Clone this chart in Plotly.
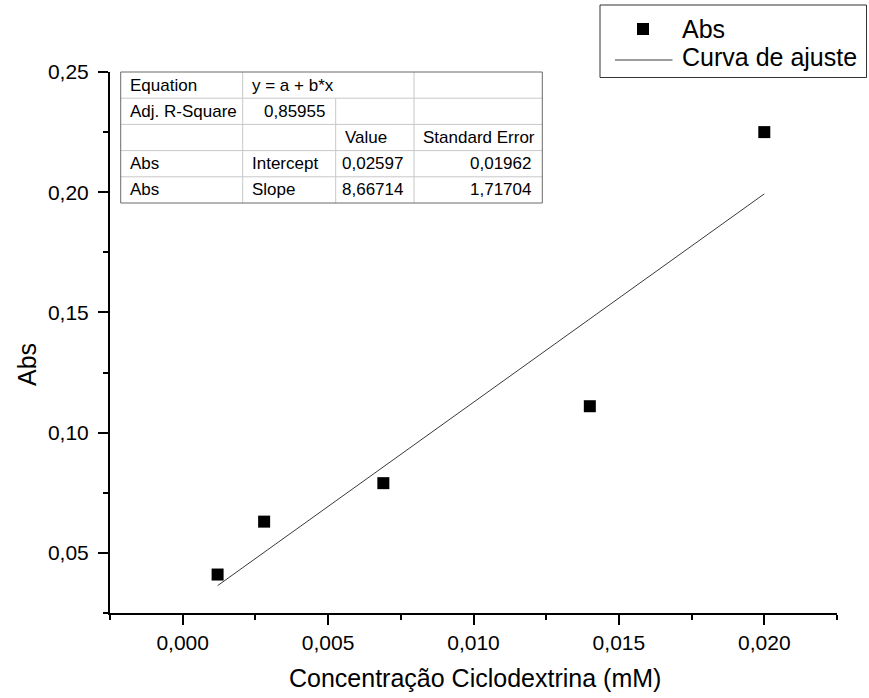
import plotly.graph_objects as go

# Measured absorbance vs. cyclodextrin concentration
conc_mM = [0.0012, 0.0028, 0.0069, 0.014, 0.020]
absorb = [0.041, 0.063, 0.079, 0.111, 0.225]

# Linear fit results (y = a + b*x)
fit_intercept = 0.02597
fit_slope = 8.66714
fit_x = [conc_mM[0], conc_mM[-1]]
fit_y = [fit_intercept + fit_slope * v for v in fit_x]

x_ticks = [0.000, 0.005, 0.010, 0.015, 0.020]
x_ticktext = ["0,000", "0,005", "0,010", "0,015", "0,020"]
y_ticks = [0.05, 0.10, 0.15, 0.20, 0.25]
y_ticktext = ["0,05", "0,10", "0,15", "0,20", "0,25"]

table_rows = [
    ["Equation", "y = a + b*x", "", ""],
    ["Adj. R-Square", "0,85955", "", ""],
    ["", "", "Value", "Standard Error"],
    ["Abs", "Intercept", "0,02597", "0,01962"],
    ["Abs", "Slope", "8,66714", "1,71704"],
]

W, H = 869, 698
L, R, T, B = 110, 32, 72, 85
PW, PH = W - L - R, H - T - B
FONT = "Liberation Sans, Arial, sans-serif"


def px(x):
    return (x - L) / PW


def py(y):
    return (H - B - y) / PH


fig = go.Figure()
fig.add_trace(go.Scatter(
    x=fit_x, y=fit_y, mode="lines",
    line=dict(color="#3a3a3a", width=1),
    name="Curva de ajuste", showlegend=False,
))
fig.add_trace(go.Scatter(
    x=conc_mM, y=absorb, mode="markers",
    marker=dict(symbol="square", size=12, color="black"),
    name="Abs", showlegend=False,
))

shapes = []
annotations = []

# Fit-parameter table
col_x = [120.7, 242.7, 335.7, 414.0, 542.3]
row_y = [72.0, 98.2, 124.4, 150.6, 176.8, 203.0]
grid = "#c8c8c8"
for i in range(1, 5):
    y0 = row_y[i]
    shapes.append(dict(type="line", xref="paper", yref="paper",
                       x0=px(col_x[0]), x1=px(col_x[-1]), y0=py(y0), y1=py(y0),
                       line=dict(color=grid, width=1)))
for j in range(1, 4):
    for i in range(5):
        if i == 0 and j == 2:
            continue
        shapes.append(dict(type="line", xref="paper", yref="paper",
                           x0=px(col_x[j]), x1=px(col_x[j]),
                           y0=py(row_y[i]), y1=py(row_y[i + 1]),
                           line=dict(color=grid, width=1)))
shapes.append(dict(type="rect", xref="paper", yref="paper",
                   x0=px(col_x[0]), x1=px(col_x[-1]), y0=py(row_y[0]), y1=py(row_y[-1]),
                   line=dict(color="#6a6a6a", width=1)))

numeric = {(1, 1), (3, 2), (3, 3), (4, 2), (4, 3)}
for i, row in enumerate(table_rows):
    yc = (row_y[i] + row_y[i + 1]) / 2
    for j, txt in enumerate(row):
        if not txt:
            continue
        if (i, j) in numeric:
            xa, anchor = col_x[j + 1] - 9, "right"
        else:
            xa, anchor = col_x[j] + 7, "left"
        annotations.append(dict(xref="paper", yref="paper", x=px(xa), y=py(yc),
                                text=txt, showarrow=False, xanchor=anchor, yanchor="middle",
                                font=dict(family=FONT, size=17, color="black")))

# Legend box
shapes.append(dict(type="rect", xref="paper", yref="paper",
                   x0=px(600), x1=px(866.5), y0=py(5), y1=py(77.5),
                   line=dict(color="#333333", width=1)))
shapes.append(dict(type="rect", xref="paper", yref="paper",
                   x0=px(637), x1=px(649), y0=py(23), y1=py(35),
                   fillcolor="black", line=dict(width=0)))
shapes.append(dict(type="line", xref="paper", yref="paper",
                   x0=px(615), x1=px(672.5), y0=py(60), y1=py(60),
                   line=dict(color="#3a3a3a", width=1)))
for txt, yc in [("Abs", 29), ("Curva de ajuste", 57)]:
    annotations.append(dict(xref="paper", yref="paper", x=px(680), y=py(yc),
                            text=txt, showarrow=False, xanchor="left", yanchor="middle",
                            font=dict(family=FONT, size=25, color="black")))

# Axis titles
annotations.append(dict(xref="paper", yref="paper", x=px(475), y=py(678),
                        text="Concentração Ciclodextrina (mM)", showarrow=False,
                        xanchor="center", yanchor="middle",
                        font=dict(family=FONT, size=25, color="black")))
annotations.append(dict(xref="paper", yref="paper", x=px(27), y=py(365),
                        text="Abs", showarrow=False, textangle=-90,
                        xanchor="center", yanchor="middle",
                        font=dict(family=FONT, size=25, color="black")))

axis_common = dict(
    showline=True, linecolor="black", linewidth=2, mirror=False,
    ticks="outside", ticklen=10, tickwidth=2, tickcolor="black",
    showgrid=False, zeroline=False,
    tickfont=dict(family=FONT, size=21, color="black"),
)

fig.update_layout(
    width=W, height=H,
    margin=dict(l=L, r=R, t=T, b=B),
    paper_bgcolor="white", plot_bgcolor="white",
    showlegend=False,
    shapes=shapes, annotations=annotations,
    xaxis=dict(range=[-0.0025, 0.0225], tickvals=x_ticks, ticktext=x_ticktext,
               minor=dict(dtick=0.0025, tick0=0, ticks="outside", ticklen=5,
                          tickwidth=2, tickcolor="black"),
               ticklabelstandoff=0, **axis_common),
    yaxis=dict(range=[0.025, 0.25], tickvals=y_ticks, ticktext=y_ticktext,
               minor=dict(dtick=0.025, tick0=0, ticks="outside", ticklen=5,
                          tickwidth=2, tickcolor="black"),
               ticklabelstandoff=5, **axis_common),
)

fig.write_html("out.html")
